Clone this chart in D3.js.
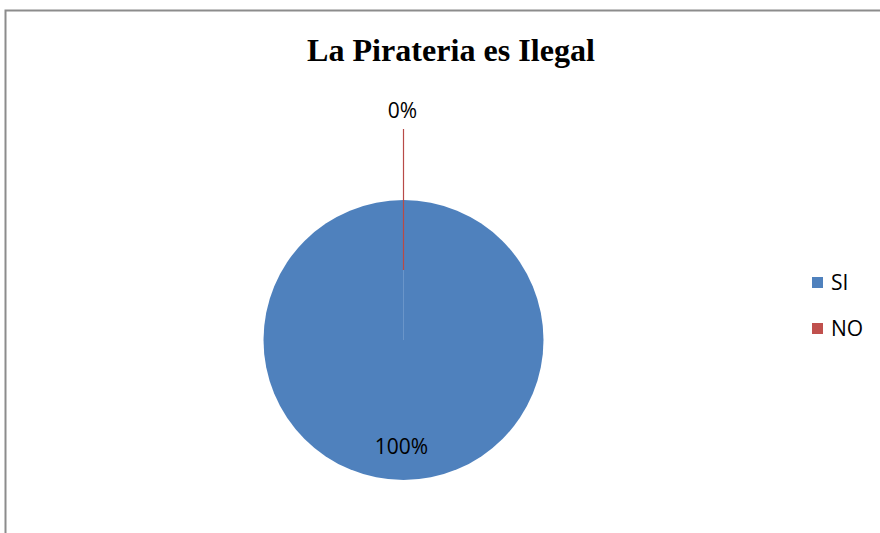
<!DOCTYPE html>
<html>
<head>
<meta charset="utf-8">
<script src="https://cdn.jsdelivr.net/npm/d3@7"></script>
<style>
  body { margin: 0; background: #fff; overflow: hidden; }
  svg { display: block; }
</style>
</head>
<body>
<svg width="880" height="533"></svg>
<script>
const categories = ['SI', 'NO'];
const values = [100, 0];
const labels = ['100%', '0%'];
const colors = ['#4F81BD', '#C0504D'];

const svg = d3.select('svg');

// marco del grafico
svg.append('rect')
    .attr('x', 5.5).attr('y', 10.5)
    .attr('width', 900).attr('height', 540)
    .attr('fill', '#fff')
    .attr('stroke', '#8c8c8c')
    .attr('stroke-width', 2);

svg.append('text')
    .attr('x', 451).attr('y', 61)
    .attr('text-anchor', 'middle')
    .attr('font-family', 'Liberation Serif, Times New Roman, serif')
    .attr('font-weight', 'bold')
    .attr('font-size', 32)
    .attr('textLength', 288)
    .attr('lengthAdjust', 'spacingAndGlyphs')
    .text('La Pirateria es Ilegal');

const cx = 403.5, cy = 340, r = 140;
const data = categories.map((c, i) => ({cat: c, value: values[i], label: labels[i], color: colors[i]}));

const pie = d3.pie().sort(null).value(d => d.value);
const arc = d3.arc().innerRadius(0).outerRadius(r);
const arcs = pie(data);

const g = svg.append('g').attr('transform', `translate(${cx},${cy})`);

g.selectAll('.slice')
    .data(arcs)
    .enter()
    .append('path')
    .classed('slice', true)
    .attr('d', arc)
    .attr('fill', d => d.data.color);

// borde fino del sector (0 grados)
g.append('line')
    .attr('x1', 0).attr('y1', 0)
    .attr('x2', 0).attr('y2', -r)
    .attr('stroke', '#6a95c9')
    .attr('stroke-width', 1);

// linea guia del 0%
const zero = arcs[1];
const ang = zero.startAngle;
const lp = d3.pointRadial(ang, r * 0.5);
const lq = d3.pointRadial(ang, r + 71);
g.append('line')
    .attr('x1', lp[0]).attr('y1', lp[1])
    .attr('x2', lq[0]).attr('y2', lq[1])
    .attr('stroke', '#b84a47')
    .attr('stroke-width', 1.2);

g.append('text')
    .attr('x', lq[0] - 1).attr('y', lq[1] - 11)
    .attr('text-anchor', 'middle')
    .attr('font-family', 'Open Sans, Liberation Sans, sans-serif')
    .attr('font-size', 21)
    .text(zero.data.label);

const big = arcs[0];
g.append('text')
    .attr('x', -2).attr('y', r * 0.8 + 2)
    .attr('text-anchor', 'middle')
    .attr('font-family', 'Open Sans, Liberation Sans, sans-serif')
    .attr('font-size', 21)
    .text(big.data.label);

// leyenda
const legend = svg.selectAll('.legend')
    .data(data)
    .enter()
    .append('g')
    .classed('legend', true)
    .attr('transform', (d, i) => `translate(812, ${277 + i * 46})`);

legend.append('rect')
    .attr('width', 11).attr('height', 11)
    .attr('fill', d => d.color);

legend.append('text')
    .attr('x', 19).attr('y', 13)
    .attr('font-family', 'Open Sans, Liberation Sans, sans-serif')
    .attr('font-size', 21)
    .text(d => d.cat);
</script>
</body>
</html>
